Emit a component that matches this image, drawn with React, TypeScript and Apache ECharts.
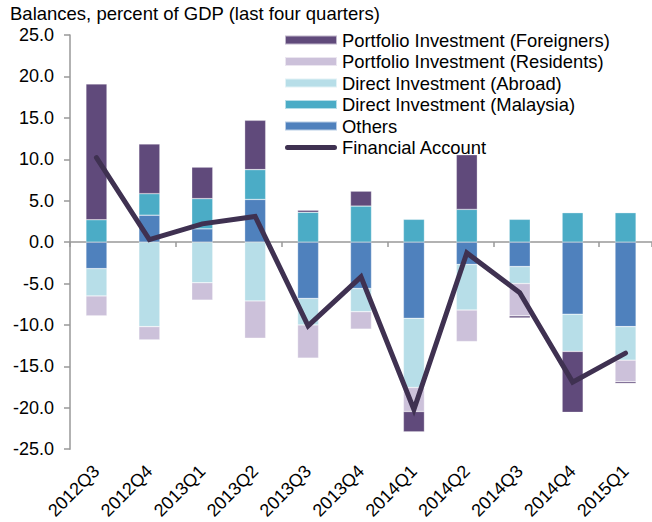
import React, { useEffect, useRef } from "react";
import * as echarts from "echarts";

const categories = ["2012Q3", "2012Q4", "2013Q1", "2013Q2", "2013Q3", "2013Q4", "2014Q1", "2014Q2", "2014Q3", "2014Q4", "2015Q1"];
const portfolioForeigners = [16.4, 6.0, 3.8, 5.95, 0.25, 1.8, -2.45, 6.6, -0.25, -7.35, -0.2];
const portfolioResidents = [-2.4, -1.6, -2.1, -4.5, -4.0, -2.1, -2.9, -3.8, -3.9, 0, -2.6];
const directAbroad = [-3.3, -10.2, -4.9, -7.1, -3.2, -2.8, -8.35, -5.5, -2.05, -4.5, -4.05];
const directMalaysia = [2.7, 2.6, 3.65, 3.6, 3.6, 4.35, 2.75, 3.95, 2.75, 3.55, 3.55];
const others = [-3.2, 3.25, 1.6, 5.15, -6.8, -5.6, -9.2, -2.7, -2.95, -8.7, -10.2];
const financialAccount = [10.2, 0.3, 2.2, 3.1, -10.1, -4.2, -20.2, -1.3, -6.1, -16.9, -13.4];

const FONT = "'Liberation Sans', Arial, sans-serif";
const LINE_ICON = "path://M2.5,0 L49.5,0 A2.5,2.5 0 0 1 49.5,5 L2.5,5 A2.5,2.5 0 0 1 2.5,0 Z";

export default function App() {
  const ref = useRef<HTMLDivElement>(null);
  useEffect(() => {
    document.body.style.margin = "0";
    if (!ref.current) return;
    const chart = echarts.init(ref.current, undefined, { renderer: "svg" });
    const bar = (name: string, data: number[], color: string) => ({
      name,
      type: "bar",
      stack: "total",
      data,
      barWidth: 21,
      itemStyle: { color, borderColor: "rgba(255,255,255,0.6)", borderWidth: 0.5 },
      xAxisIndex: 0,
    });
    chart.setOption({
      animation: false,
      textStyle: { fontFamily: FONT },
      title: {
        text: "Balances, percent of GDP (last four quarters)",
        left: 5,
        top: -1,
        textStyle: { fontFamily: FONT, fontSize: 18.5, fontWeight: "normal", color: "#000" },
      },
      legend: {
        orient: "vertical",
        left: 284,
        top: 31,
        padding: 0,
        itemWidth: 52,
        itemHeight: 9,
        itemGap: 3.5,
        textStyle: { fontFamily: FONT, fontSize: 18.4, color: "#000", lineHeight: 18 },
        data: [
          { name: "Portfolio Investment (Foreigners)", icon: "rect" },
          { name: "Portfolio Investment (Residents)", icon: "rect" },
          { name: "Direct Investment (Abroad)", icon: "rect" },
          { name: "Direct Investment (Malaysia)", icon: "rect" },
          { name: "Others", icon: "rect" },
          { name: "Financial Account", icon: LINE_ICON, itemStyle: { color: "#3f3151", borderWidth: 0 } },
        ],
      },
      grid: { left: 70, right: 0, top: 35, bottom: 71, containLabel: false },
      xAxis: [
        {
          type: "category",
          data: categories,
          axisLine: { onZero: true, lineStyle: { color: "#999", width: 1.5 } },
          axisTick: { show: true, length: 5, lineStyle: { color: "#999", width: 1.5 } },
          axisLabel: { show: false },
        },
        {
          type: "category",
          data: categories,
          position: "bottom",
          axisLine: { show: false, onZero: false },
          axisTick: { show: false },
          axisLabel: { rotate: 45, fontSize: 18, color: "#000", fontFamily: FONT, margin: 19 },
        },
      ],
      yAxis: {
        type: "value",
        min: -25,
        max: 25,
        interval: 5,
        splitLine: { show: false },
        axisLine: { show: true, lineStyle: { color: "#999", width: 1.5 } },
        axisTick: { show: true, length: 6, lineStyle: { color: "#999", width: 1.5 } },
        axisLabel: {
          fontSize: 18,
          color: "#000",
          fontFamily: FONT,
          margin: 16,
          formatter: (v: number) => v.toFixed(1),
        },
      },
      series: [
        bar("Others", others, "#4f81bd"),
        bar("Direct Investment (Malaysia)", directMalaysia, "#4bacc6"),
        bar("Direct Investment (Abroad)", directAbroad, "#b7dee8"),
        bar("Portfolio Investment (Residents)", portfolioResidents, "#ccc1da"),
        bar("Portfolio Investment (Foreigners)", portfolioForeigners, "#604a7b"),
        {
          name: "Financial Account",
          type: "line",
          data: financialAccount,
          xAxisIndex: 0,
          symbol: "none",
          showSymbol: false,
          z: 10,
          lineStyle: { color: "#3f3151", width: 5, cap: "round", join: "miter" },
          itemStyle: { color: "#3f3151" },
        },
      ],
    });
    return () => chart.dispose();
  }, []);
  return <div ref={ref} style={{ width: 652, height: 522 }} />;
}
